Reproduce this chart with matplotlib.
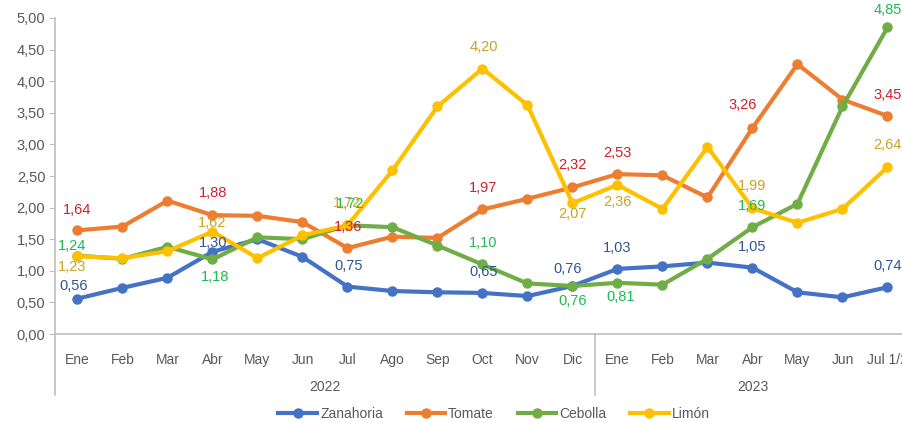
import matplotlib
matplotlib.use("Agg")
import matplotlib.pyplot as plt
import matplotlib.transforms as mtransforms
from matplotlib.lines import Line2D

plt.rcParams['font.family'] = ['Liberation Sans', 'DejaVu Sans']

# data (price per kg)
months = ["Ene", "Feb", "Mar", "Abr", "May", "Jun", "Jul", "Ago", "Sep", "Oct", "Nov", "Dic",
          "Ene", "Feb", "Mar", "Abr", "May", "Jun", "Jul 1/2"]
years = ["2022", "2023"]

zanahoria = [0.56, 0.73, 0.89, 1.30, 1.50, 1.22, 0.75, 0.68, 0.66, 0.65, 0.60, 0.76,
             1.03, 1.07, 1.13, 1.05, 0.66, 0.58, 0.74]
tomate = [1.64, 1.70, 2.11, 1.88, 1.87, 1.77, 1.36, 1.54, 1.52, 1.97, 2.14, 2.32,
          2.53, 2.51, 2.16, 3.26, 4.27, 3.71, 3.45]
cebolla = [1.24, 1.19, 1.38, 1.18, 1.53, 1.50, 1.72, 1.69, 1.40, 1.10, 0.80, 0.76,
           0.81, 0.78, 1.19, 1.69, 2.06, 3.60, 4.85]
limon = [1.23, 1.20, 1.31, 1.62, 1.20, 1.56, 1.72, 2.59, 3.60, 4.20, 3.62, 2.07,
         2.36, 1.98, 2.96, 1.99, 1.76, 1.98, 2.64]

# points that carry a data label
label_idx = [0, 3, 6, 9, 11, 12, 15, 18]

# label offsets in pixels (dx, dy up), one per labelled point
offs_zan = [(-4, 13), (1, 9), (1, 21), (1, 21), (-5, 17), (0, 21), (0, 21), (0, 21)]
offs_tom = [(0, 20), (1, 22), (1, 21), (1, 21), (0, 22), (0, 21), (-10, 23), (0, 21)]
offs_ceb = [(-5, 10), (3, -18), (3, 21), (1, 21), (0, -15), (3, -14), (0, 21), (0, 17)]
offs_lim = [(-5, -11), (0, 9), (0, 22), (1, 22), (0, -11), (0, -17), (0, 22), (0, 22)]

series = [
    ("Zanahoria", zanahoria, "#4472C4", "#2F5597", offs_zan),
    ("Tomate", tomate, "#ED7D31", "#D0202A", offs_tom),
    ("Cebolla", cebolla, "#70AD47", "#1DB954", offs_ceb),
    ("Limón", limon, "#FFC000", "#C9A227", offs_lim),
]

W, H = 903, 423
fig = plt.figure(figsize=(W / 100, H / 100), dpi=100)
ax = fig.add_axes([55 / W, 89 / H, 855 / W, 316 / H])

x = list(range(len(months)))
for name, vals, col, lcol, offs in series:
    ax.plot(x, vals, color=col, lw=3.0, marker='o', ms=6.5, clip_on=False,
            solid_capstyle='round', zorder=3)

for name, vals, col, lcol, offs in series:
    for k, i in enumerate(label_idx):
        dx, dy = offs[k]
        txt = ("%.2f" % vals[i]).replace(".", ",")
        ax.annotate(txt, (i, vals[i]), xytext=(dx * 0.72, dy * 0.72),
                    textcoords='offset points', ha='center', va='center',
                    fontsize=10.5, color=lcol, zorder=5, annotation_clip=False)

ax.set_xlim(-0.5, len(months) - 0.5)
ax.set_ylim(0, 5)
ax.set_yticks([i * 0.5 for i in range(11)])
ax.set_yticklabels([("%.2f" % (i * 0.5)).replace(".", ",") for i in range(11)])
ax.tick_params(axis='y', length=4, color='#BFBFBF', labelsize=10.5,
               labelcolor='#595959', pad=3)

ax.set_xticks(x)
ax.set_xticklabels(months)
ax.tick_params(axis='x', length=0, labelsize=10, labelcolor='#595959', pad=14)

for s in ['top', 'right']:
    ax.spines[s].set_visible(False)
for s in ['left', 'bottom']:
    ax.spines[s].set_color('#BFBFBF')
    ax.spines[s].set_linewidth(1.2)

# year groups and separators under the axis
trans = mtransforms.blended_transform_factory(ax.transData, ax.transAxes)
for xs in [-0.5, 11.5, 18.5]:
    ax.plot([xs, xs], [0, -61 / 316], transform=trans, color='#BFBFBF', lw=1.2,
            clip_on=False)
ax.text(5.5, -53 / 316, years[0], transform=trans, ha='center', va='center',
        fontsize=10, color='#595959')
ax.text(15, -53 / 316, years[1], transform=trans, ha='center', va='center',
        fontsize=10, color='#595959')

handles = [Line2D([0], [0], color=col, lw=3.0, marker='o', ms=6.5)
           for name, vals, col, lcol, offs in series]
fig.legend(handles, [s[0] for s in series], loc='center', ncol=4,
           bbox_to_anchor=(494 / W, 9 / H), frameon=False, fontsize=10,
           handlelength=2.8, handletextpad=0.2, columnspacing=1.7,
           labelcolor='#595959')

fig.savefig("out.png", dpi=100)
